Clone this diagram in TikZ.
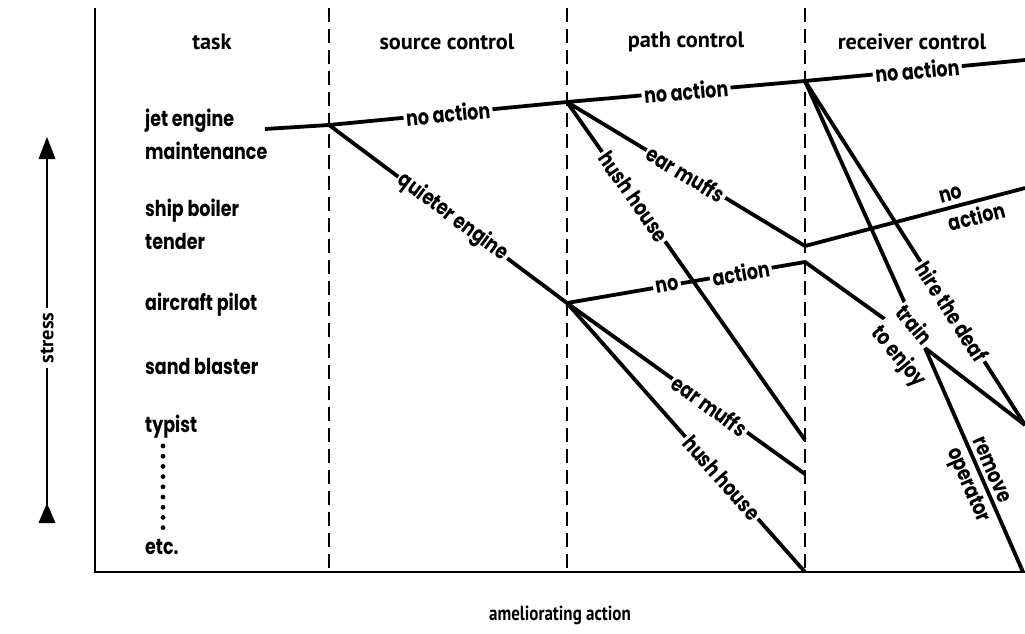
\documentclass[tikz,border=0pt]{standalone}
\usepackage{fontspec}
\usepackage{graphicx}
\setmainfont{PT Sans}
\newfontfamily\lbl{Poppins}
\newcommand\tall[1]{\scalebox{1}[1.25]{#1}}
\begin{document}
\begin{tikzpicture}[x=1pt,y=-1pt,
  conn/.style={line width=3.8pt},
  axisline/.style={line width=2.2pt},
  divider/.style={line width=1.5pt, dash pattern=on 14pt off 7pt},
  lab/.style={font=\lbl\bfseries\fontsize{17.5}{22}\selectfont, fill=white, inner sep=2.5pt, sloped},
  labside/.style={font=\lbl\bfseries\fontsize{17.5}{22}\selectfont, inner sep=4pt, sloped},
  tasklab/.style={font=\lbl\bfseries\fontsize{17.5}{22}\selectfont, anchor=west, inner sep=0pt},
  head/.style={font=\bfseries\fontsize{22.3}{26}\selectfont, inner sep=0pt},
  dotc/.style={fill=black, circle, inner sep=0pt, minimum size=4.8pt}]
\useasboundingbox (0,0) rectangle (1025,633);
\fill[white] (0,0) rectangle (1025,633);

% axes and dividers
\coordinate (O) at (95,572);
\coordinate (Otop) at (95,8);
\coordinate (Oright) at (1025,572);
\draw[axisline] (Otop) -- (O) -- (Oright);
\foreach \x/\n in {329/d1,567/d2,805/d3}{
  \coordinate (\n t) at (\x,8);
  \coordinate (\n b) at (\x,572);
  \draw[divider] (\n t) -- (\n b);
}

% headers
\node[head] (htask) at (212,42) {task};
\node[head] (hsrc) at (447,42) {source control};
\node[head] (hpath) at (686,42) {path control};
\node[head] (hrec) at (912,42) {receiver control};
\node[head, font=\bfseries\fontsize{17}{20}\selectfont] (hamel) at (560,615) {\scalebox{1}[1.2]{ameliorating action}};

% stress arrow
\coordinate (st1) at (47,158);
\coordinate (st2) at (47,506);
\node[head, font=\bfseries\fontsize{20.5}{24}\selectfont, rotate=90, fill=white, inner sep=4pt] (stress) at (47,338) {stress};
\draw[line width=2.2pt] (st1) -- (stress) -- (st2);
\fill (47,137) -- (55.5,159) -- (38.5,159) -- cycle;
\fill (47,503) -- (55.5,523) -- (38.5,523) -- cycle;

% task labels
\node[tasklab] (t1) at (145,121) {\tall{jet engine}};
\node[tasklab] (t2) at (145,151) {\tall{maintenance}};
\node[tasklab] (t3) at (145,211) {\tall{ship boiler}};
\node[tasklab] (t4) at (145,241) {\tall{tender}};
\node[tasklab] (t5) at (145,305) {\tall{aircraft pilot}};
\node[tasklab] (t6) at (145,366) {\tall{sand blaster}};
\node[tasklab] (t7) at (145,427) {\tall{typist}};
\node[tasklab] (t8) at (145,547) {\tall{etc.}};
\foreach \i in {0,...,8}{
  \node[dotc] (dot\i) at (163,446+\i*10.2) {};
}

% decision points
\coordinate (S) at (265,129);
\coordinate (A) at (329,125);
\coordinate (B) at (567,102);
\coordinate (C) at (567,303);
\coordinate (D) at (805,81);
\coordinate (E) at (805,246);
\coordinate (G) at (805,262);
\coordinate (F) at (805,440);
\coordinate (H) at (805,474);
\coordinate (K) at (805,572);
\coordinate (J) at (925,348);
\coordinate (R1) at (1025,60);
\coordinate (R2) at (1025,188);
\coordinate (R3) at (1025,425);
\coordinate (R4) at (1023,572);

\draw[conn] (S) -- (A);
\draw[conn] (A) -- node[lab]{\tall{no action}} (B);
\draw[conn] (A) -- node[lab,pos=0.52]{\tall{quieter engine}} (C);
\draw[conn] (B) -- node[lab]{\tall{no action}} (D);
\draw[conn] (D) -- node[lab,pos=0.51]{\tall{no action}} (R1);
\draw[conn] (B) -- node[lab]{\tall{ear muffs}} (E);
\draw[conn] (C) -- node[lab,pos=0.42]{\tall{no}} node[lab,pos=0.73]{\tall{action}} (G);
\draw[conn] (B) -- node[lab,pos=0.28]{\tall{hush house}} (F);
\draw[conn] (C) -- node[lab,pos=0.6]{\tall{ear muffs}} (H);
\draw[conn] (C) -- node[lab,pos=0.65]{\tall{hush house}} (K);
\draw[conn] (E) -- node[labside,pos=0.6,anchor=south west]{\tall{no}}
                   node[labside,pos=0.61,anchor=north west]{\tall{action}} (R2);
\draw[conn] (D) -- node[lab,pos=0.67]{\tall{hire the deaf}} (R3);
\draw[conn] (D) -- (J);
\draw[conn] (G) -- (J);
\node[font=\lbl\bfseries\fontsize{17.5}{31}\selectfont, align=left, rotate=-50, fill=white, inner sep=2pt] (TE) at (910,347) {\tall{train}\\\tall{to enjoy}};
\draw[conn] (J) -- (R3);
\draw[conn] (J) -- node[labside,pos=0.40,anchor=south west]{\tall{remove}}
                   node[labside,pos=0.40,anchor=north west]{\tall{operator}} (R4);
\end{tikzpicture}
\end{document}
